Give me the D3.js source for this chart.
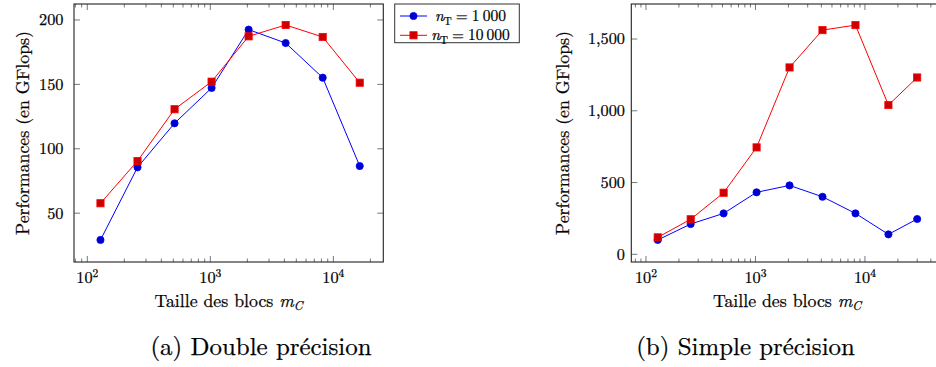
<!DOCTYPE html>
<html><head><meta charset="utf-8">
<script src="https://cdn.jsdelivr.net/npm/d3@7"></script>
<style>
html,body{margin:0;padding:0;background:#fff;}
svg{display:block;}
</style></head>
<body><svg id="chart" width="936" height="367"></svg>
<script>
// ---- data ----
const blocksDouble = [128, 256, 512, 1024, 2048, 4096, 8192, 16384];
const blocksSimple = [128, 256, 512, 1024, 2048, 4096, 8192, 16384, 30000];
const doubleN1000  = [29.2, 85.6, 119.8, 147.2, 192.5, 182.1, 155.2, 86.6];
const doubleN10000 = [57.7, 90.5, 130.7, 152.1, 187.3, 196.1, 186.8, 151.3];
const simpleN1000  = [100, 211, 285, 432, 480, 401, 285, 139, 246];
const simpleN10000 = [118, 244, 429, 745, 1302, 1562, 1597, 1040, 1232];
const yTicksDouble = [50, 100, 150, 200];
const yTicksSimple = [0, 500, 1000, 1500];
const xTickExponents = [2, 3, 4];
const seriesNames = ["1\u2009000", "10\u2009000"];
const xLabelText = "Taille des blocs ";
const yLabelText = "Performances (en GFlops)";
const captions = ["(a) Double précision", "(b) Simple précision"];

const svg = d3.select("#chart");
const FONT = "'Latin Modern Roman', 'Liberation Serif', serif";
const BLUE = "#0000ff", BLUE_FILL = "#0000cc", RED = "#ff0000", RED_FILL = "#cc0000";
const TICK_FS = 16.3, LABEL_FS = 17.8, CAP_FS = 24.9;

const panels = [
  {x0: 74, x1: 383.3, y0: 4, y1: 262, xd: [Math.pow(10, 1.892), Math.pow(10, 4.406)], yd: [12.1, 212.4],
   xs: blocksDouble, s1: doubleN1000, s2: doubleN10000, yTicks: yTicksDouble, fmt: d3.format("d"),
   labelRight: 63.5, yLabelX: 28.5, caption: captions[0], capX: 261},
  {x0: 631.3, x1: 943, y0: 4, y1: 262, xd: [Math.pow(10, 1.866), Math.pow(10, 4.713)], yd: [-53.6, 1744],
   xs: blocksSimple, s1: simpleN1000, s2: simpleN10000, yTicks: yTicksSimple, fmt: d3.format(","),
   labelRight: 625, yLabelX: 569, caption: captions[1], capX: 745.5}
];

function txt(sel) {
  return sel.append("text").style("font-family", FONT).attr("fill", "#000")
    .attr("stroke", "#000").attr("stroke-width", 0.25);
}

panels.forEach(p => {
  const x = d3.scaleLog().domain(p.xd).range([p.x0, p.x1]);
  const y = d3.scaleLinear().domain(p.yd).range([p.y1, p.y0]);
  const g = svg.append("g");

  const minor = [];
  for (let e = 1; e <= 4; e++) for (let k = 2; k <= 9; k++) {
    const v = k * Math.pow(10, e);
    if (v > p.xd[0] && v < p.xd[1]) minor.push(v);
  }
  const tickG = g.append("g").attr("stroke", "#555").attr("stroke-width", 0.8);
  minor.forEach(v => {
    const xx = x(v);
    tickG.append("line").attr("x1", xx).attr("x2", xx).attr("y1", p.y1).attr("y2", p.y1 - 3.5);
    tickG.append("line").attr("x1", xx).attr("x2", xx).attr("y1", p.y0).attr("y2", p.y0 + 3.5);
  });
  xTickExponents.forEach(e => {
    const xx = x(Math.pow(10, e));
    tickG.append("line").attr("x1", xx).attr("x2", xx).attr("y1", p.y1).attr("y2", p.y1 - 6);
    tickG.append("line").attr("x1", xx).attr("x2", xx).attr("y1", p.y0).attr("y2", p.y0 + 6);
    const t = txt(g).attr("x", xx).attr("y", 283.3).attr("text-anchor", "middle").attr("font-size", TICK_FS);
    t.append("tspan").text("10");
    t.append("tspan").attr("dy", -6.5).attr("font-size", 11.5).text(e);
  });
  p.yTicks.forEach(v => {
    const yy = y(v);
    tickG.append("line").attr("x1", p.x0).attr("x2", p.x0 + 6).attr("y1", yy).attr("y2", yy);
    tickG.append("line").attr("x1", p.x1).attr("x2", p.x1 - 6).attr("y1", yy).attr("y2", yy);
    txt(g).attr("x", p.labelRight).attr("y", yy).attr("dy", "0.33em")
      .attr("text-anchor", "end").attr("font-size", TICK_FS).text(p.fmt(v));
  });

  const mk = vals => vals.map((v, i) => [p.xs[i], v]);
  const line = d3.line().x(d => x(d[0])).y(d => y(d[1]));
  g.append("path").datum(mk(p.s1)).attr("d", line).attr("fill", "none").attr("stroke", BLUE).attr("stroke-width", 1);
  g.append("path").datum(mk(p.s2)).attr("d", line).attr("fill", "none").attr("stroke", RED).attr("stroke-width", 1);
  g.selectAll(null).data(mk(p.s1)).join("circle")
    .attr("cx", d => x(d[0])).attr("cy", d => y(d[1])).attr("r", 3.6)
    .attr("fill", BLUE_FILL).attr("stroke", BLUE).attr("stroke-width", 0.8);
  g.selectAll(null).data(mk(p.s2)).join("rect")
    .attr("x", d => x(d[0]) - 3.6).attr("y", d => y(d[1]) - 3.6).attr("width", 7.2).attr("height", 7.2)
    .attr("fill", RED_FILL).attr("stroke", RED).attr("stroke-width", 0.8);

  g.append("rect").attr("x", p.x0).attr("y", p.y0).attr("width", p.x1 - p.x0).attr("height", p.y1 - p.y0)
    .attr("fill", "none").attr("stroke", "#222").attr("stroke-width", 1.1);

  const cx = (p.x0 + p.x1) / 2;
  const xl = txt(g).attr("x", cx).attr("y", 306.7).attr("text-anchor", "middle").attr("font-size", LABEL_FS);
  xl.append("tspan").text(xLabelText);
  xl.append("tspan").attr("font-style", "italic").text("m");
  xl.append("tspan").attr("font-style", "italic").attr("font-size", LABEL_FS * 0.7).attr("dy", 3.5).text("C");
  txt(g).attr("transform", `translate(${p.yLabelX},${(p.y0 + p.y1) / 2}) rotate(-90)`)
    .attr("text-anchor", "middle").attr("font-size", LABEL_FS).text(yLabelText);

  txt(g).attr("x", p.capX).attr("y", 355).attr("text-anchor", "middle").attr("font-size", CAP_FS).text(p.caption);
});

const lg = svg.append("g");
lg.append("rect").attr("x", 394.7).attr("y", 4).attr("width", 124.6).attr("height", 38.7)
  .attr("fill", "#fff").attr("stroke", "#333").attr("stroke-width", 1);
const legendRows = [
  {name: seriesNames[0], y: 16, color: BLUE, fill: BLUE_FILL, shape: "circle"},
  {name: seriesNames[1], y: 35.3, color: RED, fill: RED_FILL, shape: "square"}
];
legendRows.forEach(r => {
  lg.append("line").attr("x1", 400).attr("x2", 427).attr("y1", r.y).attr("y2", r.y)
    .attr("stroke", r.color).attr("stroke-width", 1);
  if (r.shape === "circle") lg.append("circle").attr("cx", 413.5).attr("cy", r.y).attr("r", 3.6)
    .attr("fill", r.fill).attr("stroke", r.color).attr("stroke-width", 0.8);
  else lg.append("rect").attr("x", 413.5 - 3.6).attr("y", r.y - 3.6).attr("width", 7.2).attr("height", 7.2)
    .attr("fill", r.fill).attr("stroke", r.color).attr("stroke-width", 0.8);
  const t = txt(lg).attr("x", 470.5).attr("y", r.y + 5).attr("text-anchor", "middle").attr("font-size", 15.5);
  t.append("tspan").attr("font-style", "italic").text("n");
  t.append("tspan").attr("font-size", 11).attr("dy", 3.5).text("T");
  t.append("tspan").attr("dy", -3.5).attr("dx", 4).text("=");
  t.append("tspan").attr("dx", 4).text(r.name);
});
</script></body></html>
